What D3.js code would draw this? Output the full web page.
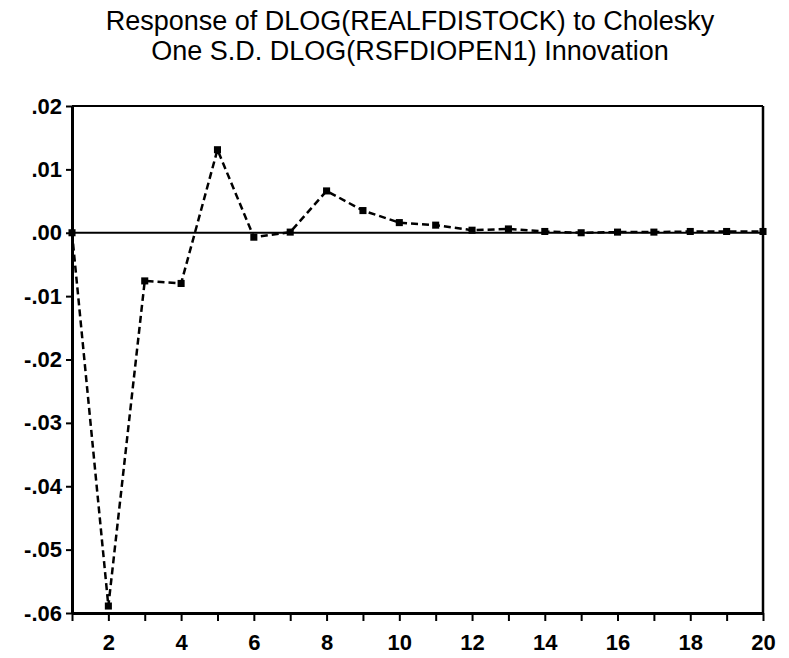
<!DOCTYPE html>
<html lang="en">
  <head>
    <title>Impulse response</title>
    <script src="https://cdn.jsdelivr.net/npm/d3@7"></script>
    <style>
      body { margin: 0; background-color: white; }
    </style>
  </head>

  <body>
    <div id="container"></div>

<script>
    const periods = d3.range(1, 21);
    const responses = [0.0, -0.0589, -0.0076, -0.0080, 0.0131, -0.0007, 0.0001, 0.0066, 0.0035, 0.0016,
                       0.0012, 0.0004, 0.0006, 0.0002, 0.0000, 0.0001, 0.0001, 0.0002, 0.0002, 0.0002];
    const yTicks = [0.02, 0.01, 0.0, -0.01, -0.02, -0.03, -0.04, -0.05, -0.06];
    const yTickLabels = [".02", ".01", ".00", "-.01", "-.02", "-.03", "-.04", "-.05", "-.06"];
    const xLabelled = [2, 4, 6, 8, 10, 12, 14, 16, 18, 20];
    const titleLines = ["Response of DLOG(REALFDISTOCK) to Cholesky", "One S.D. DLOG(RSFDIOPEN1) Innovation"];

    const width = 789, height = 658;
    const plot = {left: 72, right: 763, top: 106, bottom: 613};
    const font = "'Liberation Sans', Arial, sans-serif";

    const svg = d3.select("#container").append("svg")
        .attr("width", width)
        .attr("height", height);

    const x = d3.scaleLinear().domain([1, 20]).range([plot.left, plot.right]);
    const y = d3.scaleLinear().domain([-0.06, 0.02]).range([plot.bottom, plot.top]);

    // title
    svg.selectAll("text.title")
        .data(titleLines)
        .enter()
        .append("text")
          .attr("class", "title")
          .attr("x", 410)
          .attr("y", (d, i) => 30 + i * 30)
          .attr("text-anchor", "middle")
          .style("font-family", font)
          .style("font-size", "27px")
          .attr("fill", "black")
          .text(d => d);

    // frame top and right
    svg.append("line")
        .attr("x1", plot.left).attr("x2", plot.right)
        .attr("y1", plot.top).attr("y2", plot.top)
        .attr("stroke", "black").attr("stroke-width", 2);
    svg.append("line")
        .attr("x1", plot.right).attr("x2", plot.right)
        .attr("y1", plot.top).attr("y2", plot.bottom)
        .attr("stroke", "black").attr("stroke-width", 2.5);

    // zero line
    svg.append("line")
        .attr("x1", plot.left).attr("x2", plot.right)
        .attr("y1", y(0)).attr("y2", y(0))
        .attr("stroke", "black").attr("stroke-width", 2);

    // y axis
    const yAxis = svg.append("g")
        .attr("transform", `translate(${plot.left}, 0)`)
        .call(d3.axisLeft(y)
            .tickValues(yTicks)
            .tickFormat((d, i) => yTickLabels[i])
            .tickSizeInner(6)
            .tickSizeOuter(0)
            .tickPadding(4));
    yAxis.select(".domain").attr("stroke-width", 3);
    yAxis.selectAll(".tick line").attr("stroke-width", 2);
    yAxis.selectAll("text")
        .style("font-family", font)
        .style("font-size", "22px")
        .style("font-weight", "bold")
        .attr("fill", "black");

    // x axis
    const xAxis = svg.append("g")
        .attr("transform", `translate(0, ${plot.bottom})`)
        .call(d3.axisBottom(x)
            .tickValues(periods)
            .tickFormat(d => xLabelled.includes(d) ? d : "")
            .tickSizeInner(8)
            .tickSizeOuter(0)
            .tickPadding(13));
    xAxis.select(".domain").attr("stroke-width", 3);
    xAxis.selectAll(".tick line").attr("stroke-width", 2);
    xAxis.selectAll("text")
        .style("font-family", font)
        .style("font-size", "22px")
        .style("font-weight", "bold")
        .attr("fill", "black");

    // dashed response line
    const line = d3.line()
        .x((d, i) => x(periods[i]))
        .y(d => y(d));

    svg.append("path")
        .datum(responses)
        .attr("d", line)
        .attr("fill", "none")
        .attr("stroke", "black")
        .attr("stroke-width", 2.5)
        .attr("stroke-dasharray", "7,4");

    svg.append("g")
        .selectAll("path")
        .data(responses)
        .enter()
        .append("path")
          .attr("d", d3.symbol().type(d3.symbolSquare).size(50))
          .attr("transform", (d, i) => `translate(${x(periods[i])}, ${y(d)})`)
          .attr("fill", "black");
</script>
  </body>
</html>
